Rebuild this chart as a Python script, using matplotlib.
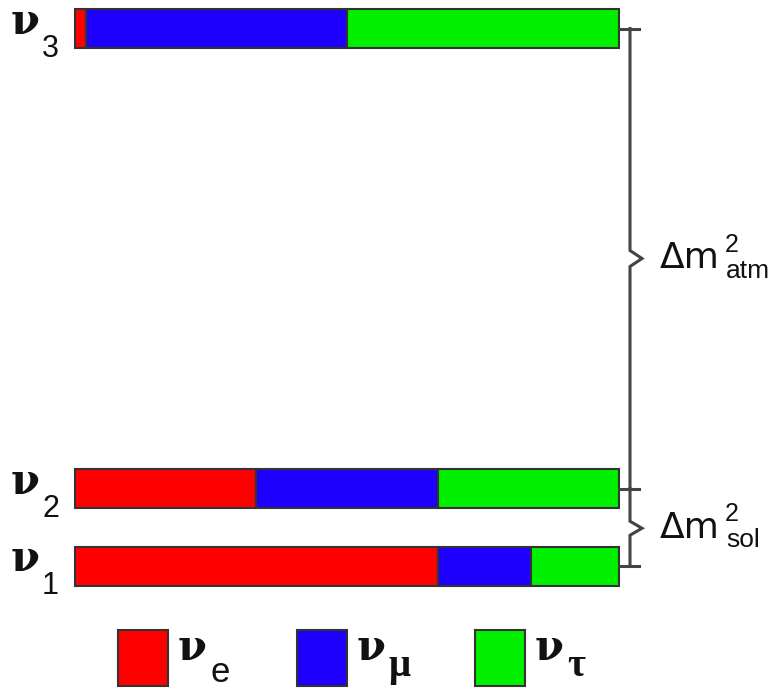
import numpy as np
import matplotlib.pyplot as plt
from matplotlib.patches import Rectangle

# flavour content of each mass state (nu_e, nu_mu, nu_tau)
states = ["3", "2", "1"]
frac_e = [0.02, 0.333, 0.668]
frac_mu = [0.48, 0.334, 0.170]
frac_tau = [0.50, 0.333, 0.162]

flavours = ["e", "\u03bc", "\u03c4"]
colors = ["#ff0000", "#1f00ff", "#00f000"]

W, H = 773, 688
fig = plt.figure(figsize=(W / 100, H / 100), dpi=100)
ax = fig.add_axes([0, 0, 1, 1])
ax.set_xlim(0, W)
ax.set_ylim(H, 0)
ax.axis("off")

# bar geometry in pixels
x0, bw = 75, 544
ycent = [28.5, 488.5, 566]
bh = 39
edge = "#333333"

fr = np.array([frac_e, frac_mu, frac_tau])
lefts = np.zeros(3)
for k in range(3):
    ax.barh(ycent, fr[k] * bw, left=x0 + lefts * bw, height=bh,
            color=colors[k], edgecolor=edge, linewidth=1.5)
    lefts += fr[k]

# state labels
nu_font = "DejaVu Serif"
sub_font = "Liberation Sans"
tc = "#111111"
for s, yc in zip(states, ycent):
    ax.text(11, yc + 5, "\u03bd", fontsize=30, family=nu_font,
            fontweight="bold", ha="left", va="baseline", color=tc)
    ax.text(42, yc + 28.5, s, fontsize=22, family=sub_font,
            ha="left", va="baseline", color=tc)

# brackets
lc = "#444444"
lw = 2.2
bx = 630
tip = 12
y3, y2, y1 = ycent
ya = (y3 + y2) / 2
ys = (y2 + y1) / 2 + 1
ax.plot([bx, bx, bx + tip, bx, bx], [y3, ya - 8, ya, ya + 8, y2],
        color=lc, lw=lw, solid_joinstyle="miter")
ax.plot([bx, bx, bx + tip, bx, bx], [y2, ys - 7, ys, ys + 7, y1],
        color=lc, lw=lw, solid_joinstyle="miter")
for yy in (y3, y2, y1):
    ax.plot([620, 639], [yy, yy], color=lc, lw=lw)

# delta m^2 labels
for yc, sub in ((ya, "atm"), (ys, "sol")):
    ax.text(660, yc + 10, "\u0394m", fontsize=26, family="DejaVu Sans",
            ha="left", va="baseline", color=tc)
    ax.text(725, yc - 7, "2", fontsize=18, family=sub_font,
            ha="left", va="baseline", color=tc)
    ax.text(726, yc + 19, sub, fontsize=19, family=sub_font,
            ha="left", va="baseline", color=tc)

# legend
sq_x = [118, 297, 475]
for c, f, sx in zip(colors, flavours, sq_x):
    ax.add_patch(Rectangle((sx, 630), 50, 56, facecolor=c,
                           edgecolor=edge, linewidth=1.5))
    ax.text(sx + 60, 660, "\u03bd", fontsize=30, family=nu_font,
            fontweight="bold", ha="left", va="baseline", color=tc)
    if f == "e":
        ax.text(sx + 92, 682, f, fontsize=25, family=sub_font,
                ha="left", va="baseline", color=tc)
    else:
        ax.text(sx + 92, 676, f, fontsize=28, family="Liberation Serif",
                fontweight="bold", ha="left", va="baseline", color=tc)

fig.savefig("out.png", dpi=100, facecolor="white")
